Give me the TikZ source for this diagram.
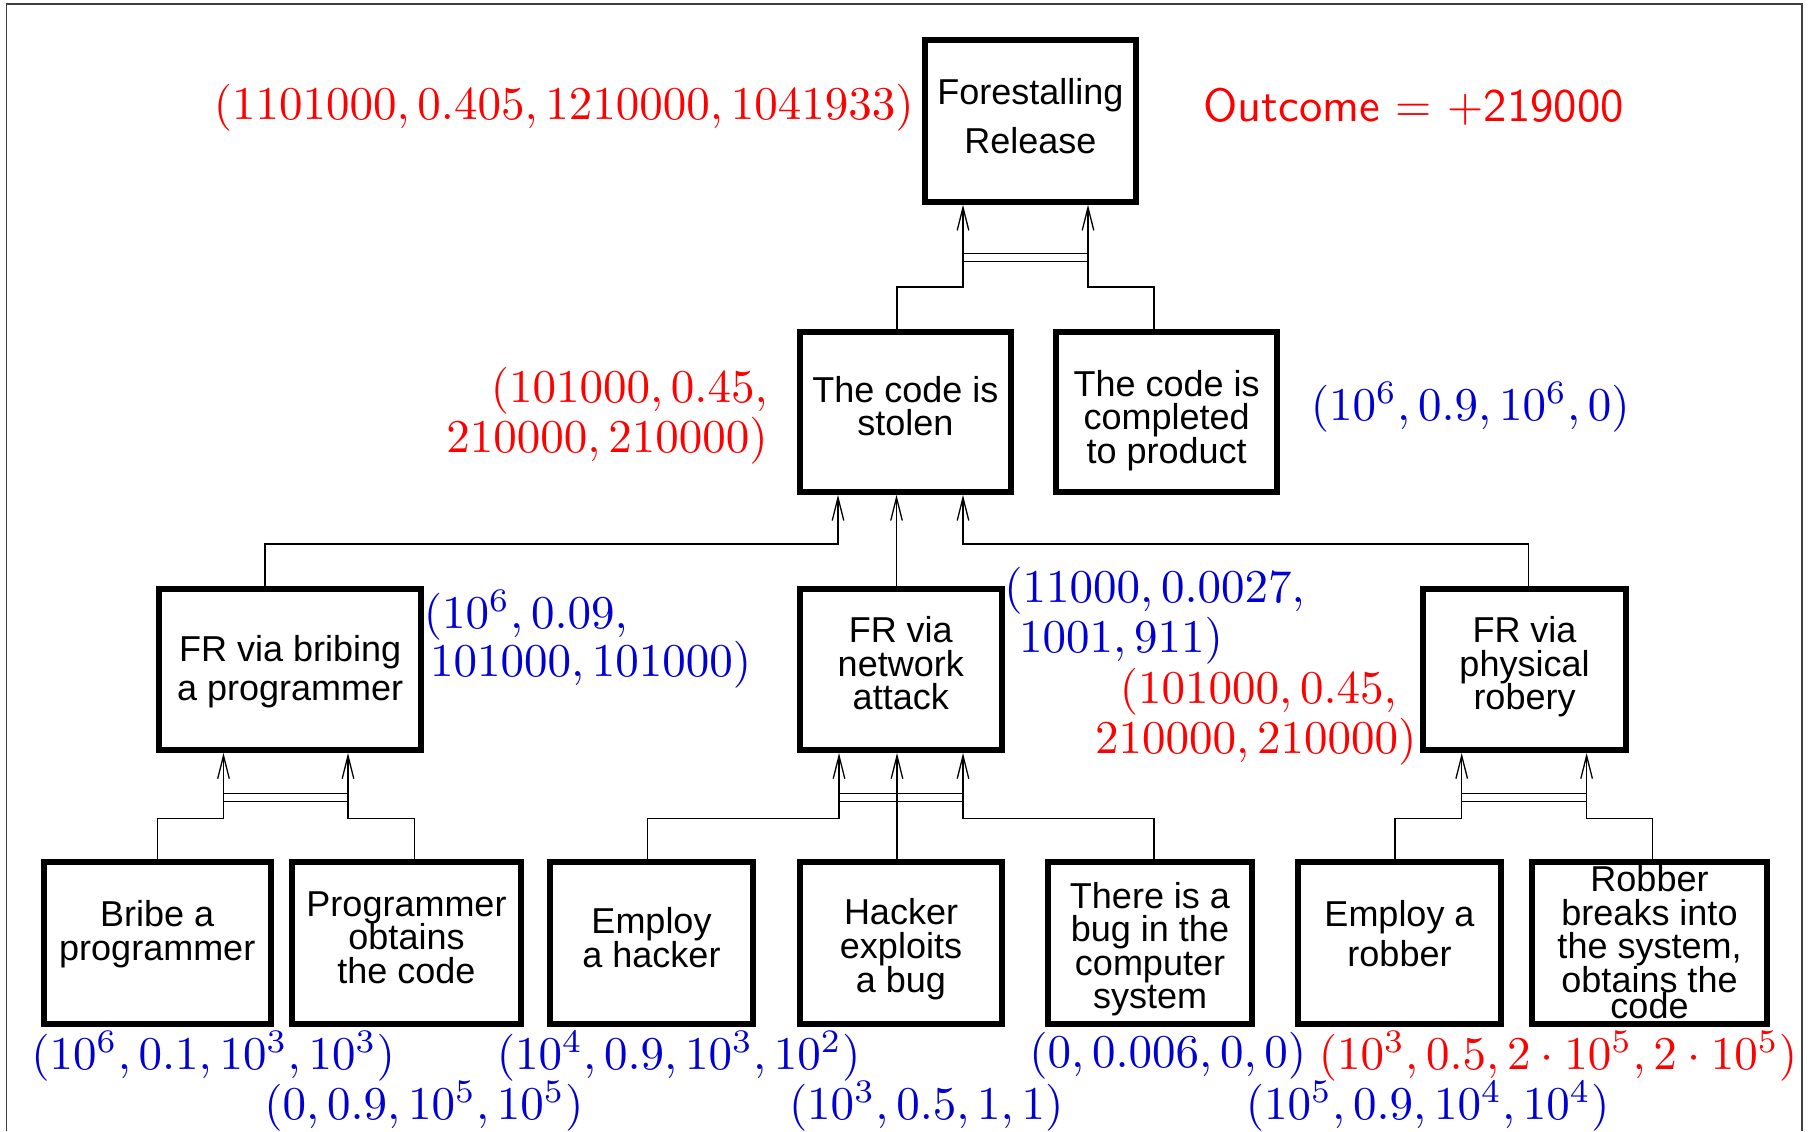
\documentclass[tikz,border=0pt]{standalone}
\usepackage{graphicx}
\usepackage{fontspec}
\newfontfamily\boxfont{Liberation Sans}
\usetikzlibrary{arrows.meta}
\definecolor{lblue}{RGB}{0,0,210}
\definecolor{lred}{RGB}{255,0,0}
\newcommand\topstr[1]{\rule{0pt}{#1}}
\newcommand\botstr[1]{\rule[-#1]{0pt}{#1}}
\newcommand\lbl[1]{\scalebox{2.35}{$#1$}}
\begin{document}
\begin{tikzpicture}[x=0.5pt,y=-0.5pt,
  box/.style={draw, line width=3pt, inner sep=0pt, align=center, text=black,
              font=\boxfont\fontsize{18}{16.8}\selectfont},
  conn/.style={line width=0.65pt},
  arr/.style={conn, -{Straight Barb[length=11.5pt,width=5.8pt]}},
  lab/.style={inner sep=0pt, font=\fontsize{10}{12}\selectfont},
  blab/.style={lab, text=lblue},
  rlab/.style={lab, text=lred}]
\useasboundingbox (0,0) rectangle (1813,1131);
% frame
\draw[line width=0.7pt, black!75] (6.7,1131) -- (6.7,4) -- (1802,4) -- (1802,1131);

% boxes
\node[box, minimum width=105.7pt, minimum height=80.8pt] (fr) at (1030.3,120.9)
  {\topstr{13.5pt}Forestalling\\[7.9pt]Release\botstr{5.5pt}};
\node[box, minimum width=105.6pt, minimum height=80.2pt] (stolen) at (905.4,411.7)
  {\topstr{13.5pt}The code is\\stolen\botstr{6.2pt}};
\node[box, minimum width=110.3pt, minimum height=80.2pt] (completed) at (1166.7,411.7)
  {\topstr{22pt}The code is\\completed\\to product\botstr{4pt}};
\node[box, minimum width=131.2pt, minimum height=80.5pt] (bribing) at (290.2,669.5)
  {\topstr{15.2pt}FR via bribing\\[2.7pt]a programmer\botstr{4pt}};
\node[box, minimum width=101pt, minimum height=80.5pt] (network) at (900.75,669.5)
  {\topstr{13.5pt}FR via\\network\\attack\botstr{7pt}};
\node[box, minimum width=101.5pt, minimum height=80.5pt] (physical) at (1524.5,669.5)
  {\topstr{13.5pt}FR via\\physical\\robery\botstr{7pt}};
\node[box, minimum width=113.75pt, minimum height=81pt] (bribe) at (157.25,943)
  {\topstr{13.5pt}Bribe a\\programmer\botstr{13pt}};
\node[box, minimum width=114.5pt, minimum height=81pt] (progobt) at (406.5,943)
  {\topstr{13.5pt}Programmer\\obtains\\the code\botstr{6.6pt}};
\node[box, minimum width=101.5pt, minimum height=81pt] (emphack) at (651.5,943)
  {\topstr{13.5pt}Employ\\a hacker\botstr{6pt}};
\node[box, minimum width=101pt, minimum height=81pt] (hackexp) at (901,943)
  {\topstr{19.5pt}Hacker\\exploits\\a bug\botstr{4pt}};
\node[box, minimum width=102pt, minimum height=81pt] (bug) at (1150,943)
  {\topstr{19.5pt}There is a\\bug in the\\computer\\system\botstr{4pt}};
\node[box, minimum width=101.5pt, minimum height=81pt] (emprob) at (1399.5,943)
  {\topstr{13.5pt}Employ a\\[3.2pt]robber\botstr{9.6pt}};
\node[box, minimum width=117.5pt, minimum height=81pt] (robber) at (1649.5,943)
  {\topstr{13.5pt}Robber\\breaks into\\the system,\\obtains the\\[-3.8pt]code\botstr{1.5pt}};

% junction coordinates
\coordinate (j1) at (963,287);
\coordinate (j2) at (1088,287);
\coordinate (topA) at (0,253.5);
\coordinate (topB) at (0,261.5);
\coordinate (k1) at (838,544);
\coordinate (k2) at (896.5,544);
\coordinate (k3) at (963,544);
\coordinate (m1) at (223.5,818.7);
\coordinate (m2) at (348,818.7);
\coordinate (n1) at (839,818.7);
\coordinate (n2) at (897,818.7);
\coordinate (n3) at (963,818.7);
\coordinate (p1) at (1461.7,818.7);
\coordinate (p2) at (1586.6,818.7);
\coordinate (barA) at (0,793.5);
\coordinate (barB) at (0,801.7);

% top group (AND)
\draw[arr] ([xshift=-4.2pt]stolen.north) |- (j1) -- (j1 |- fr.south);
\draw[arr] ([xshift=-6.35pt]completed.north) |- (j2) -- (j2 |- fr.south);
\draw[conn] (j1 |- topA) -- (j2 |- topA);
\draw[conn] (j1 |- topB) -- (j2 |- topB);

% stolen group (OR)
\draw[arr] ([xshift=-12.6pt]bribing.north) |- (k1) -- (k1 |- stolen.south);
\draw[arr] (k2 |- network.north) -- (k2 |- stolen.south);
\draw[arr] ([xshift=2.05pt]physical.north) |- (k3) -- (k3 |- stolen.south);

% bribing group (AND)
\draw[arr] (bribe.north) |- (m1) -- (m1 |- bribing.south);
\draw[arr] ([xshift=4.05pt]progobt.north) |- (m2) -- (m2 |- bribing.south);
\draw[conn] (m1 |- barA) -- (m2 |- barA);
\draw[conn] (m1 |- barB) -- (m2 |- barB);

% network group (AND)
\draw[arr] ([xshift=-2pt]emphack.north) |- (n1) -- (n1 |- network.south);
\draw[arr] (n2 |- hackexp.north) -- (n2 |- network.south);
\draw[arr] ([xshift=2pt]bug.north) |- (n3) -- (n3 |- network.south);
\draw[conn] (n1 |- barA) -- (n3 |- barA);
\draw[conn] (n1 |- barB) -- (n3 |- barB);

% physical group (AND)
\draw[arr] ([xshift=-2.25pt]emprob.north) |- (p1) -- (p1 |- physical.south);
\draw[arr] ([xshift=1.65pt]robber.north) |- (p2) -- (p2 |- physical.south);
\draw[conn] (p1 |- barA) -- (p2 |- barA);
\draw[conn] (p1 |- barB) -- (p2 |- barB);

% value labels
\node[rlab, anchor=east] (vfr) at (914,108) {\lbl{(1101000, 0.405, 1210000, 1041933)}};
\node[rlab, anchor=west] (outcome) at (1203,106.5) {\scalebox{2.33}{\sffamily Outcome = +219000}};
\node[rlab, anchor=east] (vst1) at (768,390.8) {\lbl{(101000, 0.45,}};
\node[rlab, anchor=east] (vst2) at (768,440.5) {\lbl{210000, 210000)}};
\node[blab, anchor=west] (vco) at (1310.4,407) {\lbl{(10^6, 0.9, 10^6, 0)}};
\node[blab, anchor=west] (vbr1) at (423.4,615) {\lbl{(10^6, 0.09,}};
\node[blab, anchor=west] (vbr2) at (429.6,665) {\lbl{101000, 101000)}};
\node[blab, anchor=west] (vnw1) at (1004,591) {\lbl{(11000, 0.0027,}};
\node[blab, anchor=west] (vnw2) at (1018.8,640.7) {\lbl{1001, 911)}};
\node[rlab, anchor=west] (vph1) at (1119.5,691.7) {\lbl{(101000, 0.45,}};
\node[rlab, anchor=west] (vph2) at (1094.7,741.7) {\lbl{210000, 210000)}};
\node[blab, anchor=west] (vb1) at (31,1056) {\lbl{(10^6, 0.1, 10^3, 10^3)}};
\node[blab, anchor=west] (vb2) at (264,1106) {\lbl{(0, 0.9, 10^5, 10^5)}};
\node[blab, anchor=west] (vb3) at (496.4,1056) {\lbl{(10^4, 0.9, 10^3, 10^2)}};
\node[blab, anchor=west] (vb4) at (788.6,1106) {\lbl{(10^3, 0.5, 1, 1)}};
\node[blab, anchor=west] (vb5) at (1029,1056) {\lbl{(0, 0.006, 0, 0)}};
\node[rlab, anchor=west] (vb6) at (1318.4,1056) {\lbl{(10^3, 0.5, 2\cdot 10^5, 2\cdot 10^5)}};
\node[blab, anchor=west] (vb7) at (1245.4,1106) {\lbl{(10^5, 0.9, 10^4, 10^4)}};
\end{tikzpicture}
\end{document}
